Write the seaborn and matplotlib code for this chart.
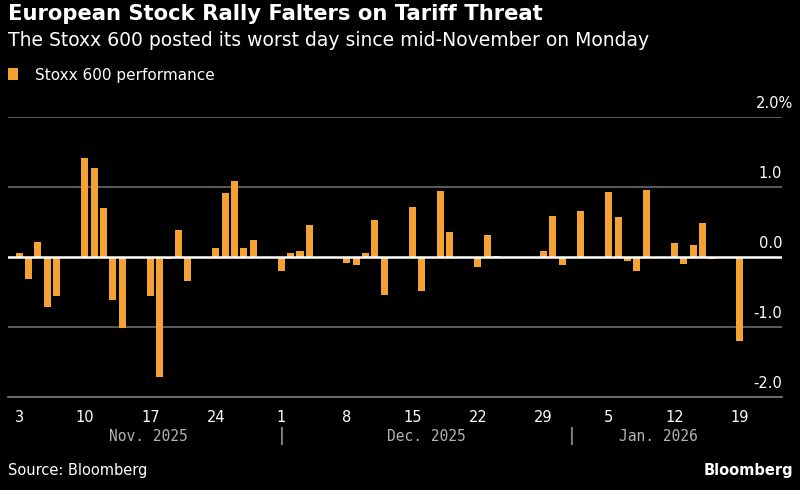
import numpy as np
import pandas as pd
import matplotlib
import matplotlib.pyplot as plt
import seaborn as sns

# trading days (Stoxx 600), exchange holidays taken out
holidays = ["2025-12-25", "2025-12-26", "2026-01-01"]
dates = pd.bdate_range("2025-11-03", "2026-01-19").drop(pd.to_datetime(holidays))

# daily performance, %
perf = [0.06, -0.31, 0.22, -0.71, -0.56,
        1.41, 1.27, 0.70, -0.61, -1.02,
        -0.56, -1.72, -0.03, 0.39, -0.34,
        0.13, 0.91, 1.09, 0.13, 0.24,
        -0.20, 0.06, 0.09, 0.45, -0.01,
        -0.08, -0.11, 0.06, 0.53, -0.54,
        0.72, -0.48, 0.00, 0.94, 0.35,
        -0.14, 0.32, 0.01,
        0.08, 0.59, -0.11,
        0.66,
        0.93, 0.57, -0.06, -0.20, 0.95,
        0.20, -0.10, 0.17, 0.49, -0.03,
        -1.20]

yticks = [-2, -1, 0, 1, 2]
ylabels = ["-2.0", "-1.0", "0.0", "1.0", "2.0%"]
months = [("2025-11-01", "Nov. 2025"), ("2025-12-01", "Dec. 2025"), ("2026-01-01", "Jan. 2026"), ("2026-02-01", None)]

bar_color = "#f5a234"
grid_color = "#626262"

start = dates[0]
df = pd.DataFrame({"day": (dates - start).days, "perf": perf})

sns.set_style("dark")
plt.rcParams['font.family'] = ['DejaVu Sans']

fig = plt.figure(figsize=(8, 4.9), dpi=100, facecolor="black")
ax = fig.add_axes([8/800, 93/490, 774/800, 280/490])
ax.set_facecolor("black")

sns.barplot(data=df, x="day", y="perf", native_scale=True, color=bar_color,
            saturation=1, width=0.75, linewidth=0, errorbar=None,
            label="Stoxx 600 performance", ax=ax)

ax.set_xlim(-1.2, 81.5)
ax.set_ylim(-2, 2)
ax.set_xlabel("")
ax.set_ylabel("")

# y axis: labels on the right, sitting on top of the gridlines
ax.set_yticks(yticks)
ax.set_yticklabels(ylabels)
ax.yaxis.tick_right()
ax.tick_params(axis='y', length=0, pad=0, labelsize=10.5, labelcolor='white')
for t in ax.get_yticklabels():
	t.set_ha('right')
	t.set_va('bottom')
	dx = 8/72 if t.get_text().endswith('%') else 0
	offs = matplotlib.transforms.ScaledTranslation(dx, 4/72, fig.dpi_scale_trans)
	t.set_transform(t.get_transform() + offs)

ax.grid(False)
for y in yticks[1:]:
	if y == 0:
		continue
	ax.axhline(y, color=grid_color, lw=1.3, zorder=0)
ax.axhline(0, color='white', lw=1.8, zorder=3)

# x axis: Mondays
mondays = [d for d in dates if d.weekday() == 0]
ax.set_xticks([(d - start).days for d in mondays])
ax.set_xticklabels([str(d.day) for d in mondays])
ax.set_xticks([(pd.Timestamp("2026-01-01") - start).days], minor=True)
ax.tick_params(axis='x', which='both', direction='out', length=6, width=1.3,
               color='#c8c8c8', labelcolor='white', labelsize=10.5, pad=3)

for s in ['top', 'left', 'right']:
	ax.spines[s].set_visible(False)
ax.spines['bottom'].set_color('#767676')
ax.spines['bottom'].set_linewidth(1.3)

# month labels and separators
trans = matplotlib.transforms.blended_transform_factory(ax.transData, ax.transAxes)
first = 0 - 0.5
last = df["day"].max() + 0.5
for i in range(len(months) - 1):
	m0 = (pd.Timestamp(months[i][0]) - start).days
	m1 = (pd.Timestamp(months[i+1][0]) - start).days
	x0 = max(m0, first)
	x1 = min(m1, last)
	ax.text((x0 + x1) / 2, -0.14, months[i][1], transform=trans, ha='center', va='center',
	        color='#b4b4b4', fontsize=10.5, family='DejaVu Sans Mono')
	if i > 0:
		ax.text(m0, -0.14, "|", transform=trans, ha='center', va='center',
		        color='#b4b4b4', fontsize=12, family='DejaVu Sans Mono')

leg = ax.legend(loc='center left', bbox_to_anchor=(0.01, 1 - 75/490), bbox_transform=fig.transFigure,
                frameon=False, handlelength=0.65, handleheight=0.8, handletextpad=1.1,
                borderaxespad=0, borderpad=0, fontsize=11, labelcolor='white')

fig.text(0.01, 1 - 14.5/490, "European Stock Rally Falters on Tariff Threat", color='white',
         fontsize=15.2, fontweight='bold', ha='left', va='center')
fig.text(0.01, 1 - 40.5/490, "The Stoxx 600 posted its worst day since mid-November on Monday", color='white',
         fontsize=13.5, ha='left', va='center')
fig.text(0.01, 1 - 470/490, "Source: Bloomberg", color='white', fontsize=10.5, ha='left', va='center')
fig.text(0.991, 1 - 470/490, "Bloomberg", color='white', fontsize=10.5, fontweight='bold', ha='right', va='center')

plt.savefig("out.png", dpi=100, facecolor="black")
